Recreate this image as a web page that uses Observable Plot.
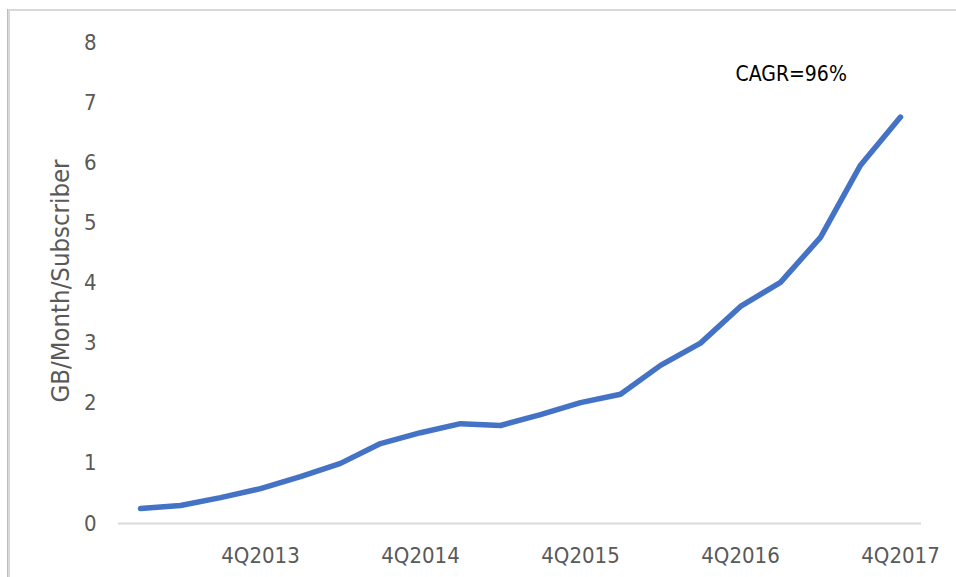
<!DOCTYPE html>
<html>
<head>
<meta charset="utf-8">
<script src="https://cdn.jsdelivr.net/npm/d3@7"></script>
<script src="https://cdn.jsdelivr.net/npm/@observablehq/plot@0.6"></script>
<style>
  html, body { margin: 0; padding: 0; background: #fff; }
  #wrap { position: relative; width: 956px; height: 577px; overflow: hidden; }
  #frame { position: absolute; left: 8px; top: 9px; width: 960px; height: 580px;
           border-top: 2px solid #d9d9d9; border-left: 2px solid #d9d9d9;
           box-shadow: -1px 0 0 #5fe3ea; box-sizing: border-box; }
  #chart { position: absolute; left: 0; top: 0; }
  #chart svg { font-family: "DejaVu Sans Condensed", "DejaVu Sans", sans-serif; font-stretch: condensed; }
</style>
</head>
<body>
<div id="wrap">
  <div id="frame"></div>
  <div id="chart"></div>
</div>
<script>
const quarters = [
  "1Q2013","2Q2013","3Q2013","4Q2013",
  "1Q2014","2Q2014","3Q2014","4Q2014",
  "1Q2015","2Q2015","3Q2015","4Q2015",
  "1Q2016","2Q2016","3Q2016","4Q2016",
  "1Q2017","2Q2017","3Q2017","4Q2017"
];
const usage = [
  0.25, 0.30, 0.43, 0.58,
  0.78, 1.00, 1.33, 1.51,
  1.66, 1.63, 1.81, 2.01,
  2.15, 2.63, 3.00, 3.61,
  4.01, 4.76, 5.96, 6.76
];
const xTickLabels = ["4Q2013","4Q2014","4Q2015","4Q2016","4Q2017"];
const yTicks = [0, 1, 2, 3, 4, 5, 6, 7, 8];
const yLabel = "GB/Month/Subscriber";
const annotationText = ["CAGR=96%"];
const annotationQuarter = ["4Q2016"];
const annotationValue = [7.47];

const data = quarters.map((q, i) => ({quarter: q, value: usage[i]}));
const notes = annotationText.map((t, i) => ({text: t, quarter: annotationQuarter[i], value: annotationValue[i]}));

const chart = Plot.plot({
  width: 956,
  height: 577,
  marginLeft: 118,
  marginRight: 35,
  marginTop: 42,
  marginBottom: 54,
  style: {fontSize: "22px", color: "#595959", background: "transparent", overflow: "visible"},
  x: {type: "point", domain: quarters, padding: 0.5, label: null},
  y: {domain: [0, 8], label: null},
  marks: [
    Plot.axisX({ticks: xTickLabels, tickSize: 0, tickPadding: 24, fontSize: 22, fill: "#595959", label: null}),
    Plot.axisY({ticks: yTicks, tickSize: 0, tickPadding: 22, fontSize: 22, fill: "#595959", label: null}),
    Plot.text([yLabel], {frameAnchor: "left", textAnchor: "middle", lineAnchor: "middle", rotate: -90,
                         dx: -58, dy: -2, fontSize: 25.5, fill: "#595959"}),
    Plot.ruleY([0], {stroke: "#d9d9d9", strokeWidth: 2}),
    Plot.line(data, {x: "quarter", y: "value", stroke: "#4472c4", strokeWidth: 5.5,
                     strokeLinecap: "round", strokeLinejoin: "round"}),
    Plot.text(notes, {x: "quarter", y: "value", text: "text", textAnchor: "start", dx: -5,
                      fill: "#000", fontSize: 21})
  ]
});
document.getElementById("chart").appendChild(chart);
</script>
</body>
</html>
